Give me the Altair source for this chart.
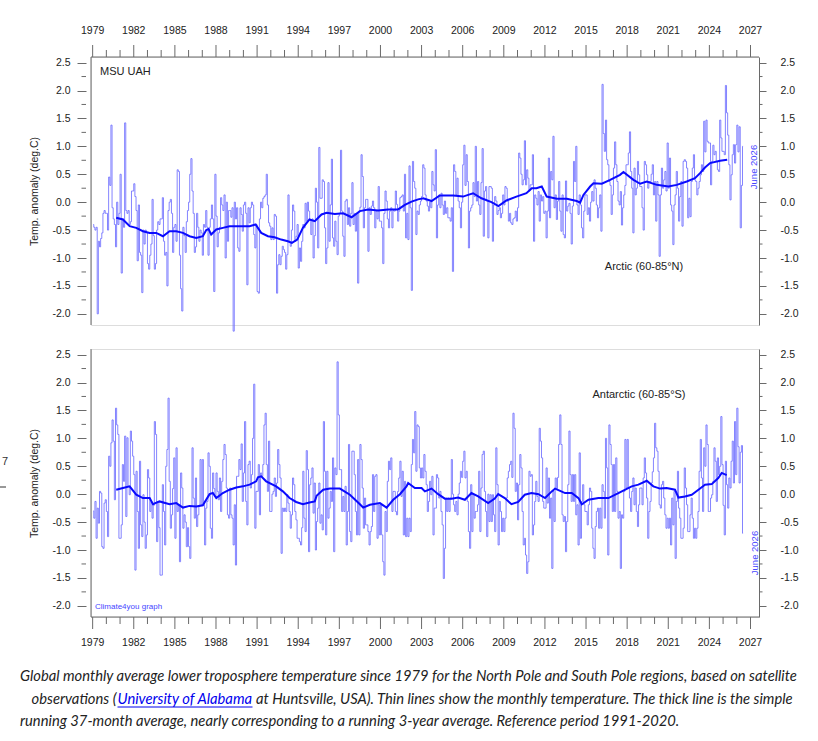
import altair as alt
import pandas as pd

# ---------------- data ----------------
arctic_rows = [
    [-0.4, -0.45, -0.5, -0.45, -2.0, -0.7, -0.8, -0.65, -0.55, -0.2, -0.15, -0.2],      # 1979
    [-0.2, -0.5, 0.45, 0.3, 1.38, -0.1, -0.3, -0.4, -0.8, 0.0, -0.4, -0.2],             # 1980
    [0.5, -1.27, -0.3, -0.45, 1.42, -0.15, -0.2, -0.15, -0.4, -0.35, 0.2, 0.2],         # 1981
    [0.33, 0.1, -0.15, -1.05, -0.05, -0.9, -0.95, -1.62, -0.5, -0.75, -0.5, -0.55],     # 1982
    [-1.1, -1.2, -0.95, -0.75, 0.05, -0.6, -1.2, -1.1, -0.5, -0.35, -0.4, -0.3],        # 1983
    [-0.3, 0.08, -0.7, -0.95, -0.9, -1.5, -0.15, 0.0, 0.05, -0.2, -0.9, -0.45],         # 1984
    [-0.4, -0.7, 0.58, 0.55, -0.95, -1.55, -1.95, -0.45, -0.6, -0.9, -0.35, -0.15],     # 1985
    [0.0, 0.5, 0.78, 0.2, -0.2, -0.9, -0.8, -0.2, -0.45, -0.7, -0.5, -0.55],            # 1986
    [-0.95, -0.4, -0.45, -0.15, -0.45, -0.95, -0.45, -0.3, -0.05, -0.3, -1.6, 0.5],     # 1987
    [-0.25, -0.8, -0.55, -0.45, 0.08, -0.05, -0.15, 0.13, -1.0, 0.0, -0.7, -0.15],      # 1988
    [-0.15, -0.27, -0.1, -2.31, 0.0, -0.3, -0.1, -0.82, -0.88, -0.1, -0.22, -0.52],     # 1989
    [-0.05, 0.0, -0.2, -1.48, -0.1, -0.37, -0.1, 0.0, -0.05, -0.58, -0.82, -0.4],       # 1990
    [-1.6, -1.63, -0.3, 0.0, -0.1, 0.07, 0.1, 0.13, 0.5, -0.05, -0.37, -0.43],          # 1991
    [-0.67, -0.46, -0.67, -0.22, -0.25, -1.63, -1.12, -0.94, -1.12, -0.97, -0.79, -0.85],  # 1992
    [-0.9, -1.2, -0.94, 0.13, -0.7, -0.79, -0.5, -0.05, -0.16, -0.7, -0.61, -0.4],      # 1993
    [-1.18, -0.82, -1.06, -0.7, -0.4, -0.46, -0.02, -0.34, 0.0, -0.16, -0.31, -0.58],   # 1994
    [-0.3, -1.0, -0.6, 0.25, 0.0, -0.82, 0.98, 0.07, 0.07, 0.4, 0.37, -0.46],           # 1995
    [-1.1, -0.82, 0.35, -0.7, -0.05, 0.77, -0.64, -0.79, -0.34, -0.7, -0.94, -0.25],    # 1996
    [-0.2, 0.93, -0.16, -0.61, -0.97, 0.02, 0.05, -0.4, -0.1, -0.43, -0.2, 0.35],       # 1997
    [-0.4, -0.2, -0.52, -0.22, -1.45, -0.16, -0.09, 0.85, 0.46, -0.46, -0.1, 0.05],     # 1998
    [0.05, -0.88, -0.1, -0.22, -0.07, 0.02, -0.1, -0.46, -0.16, -0.3, 0.28, -0.34],     # 1999
    [-0.34, -0.46, -1.1, -0.2, 0.2, 0.02, -0.3, -0.46, -0.16, -0.1, -0.46, -0.15],      # 2000
    [-0.16, 0.2, -0.04, -0.34, -0.16, 0.08, 0.1, 0.13, -0.16, 0.5, -0.64, -0.2],        # 2001
    [-0.67, 0.65, -0.1, -1.58, 0.73, 0.37, 0.25, -0.58, -0.16, -0.22, -0.05, 0.02],     # 2002
    [0.1, 0.67, 0.61, 0.13, 0.02, -0.07, -0.16, 0.0, -0.1, 0.55, 0.31, 0.2],            # 2003
    [0.94, -0.64, -0.05, 0.13, -0.1, 0.16, -0.05, -0.22, 0.02, -0.2, -0.1, -0.28],      # 2004
    [-0.28, -0.34, -0.1, -1.24, 0.67, 0.55, 0.13, 0.43, 0.02, -0.1, -0.46, 0.0],        # 2005
    [0.67, 1.02, 0.3, 0.85, 0.37, -0.82, -0.16, -0.1, -0.05, 0.35, 0.1, 1.0],           # 2006
    [0.02, 0.37, -0.05, -0.22, 0.35, 0.96, -0.61, 0.2, 0.28, 0.02, -0.64, 0.28],        # 2007
    [0.28, 0.25, -0.7, -0.05, 0.1, 0.02, -0.22, -0.15, -0.1, -0.28, -0.2, 0.13],        # 2008
    [-0.05, 0.28, 0.25, 0.02, -0.34, -0.2, -0.37, -0.4, -0.3, -0.28, -0.16, -0.34],     # 2009
    [-0.1, 0.88, 0.79, 0.5, 0.31, 0.4, 1.1, 0.31, 0.58, 0.43, 0.2, 0.31],               # 2010
    [0.31, 0.85, -0.7, 0.13, 0.07, -0.05, 0.19, -0.34, 0.13, 0.02, 0.1, -0.2],          # 2011
    [-0.16, -0.64, -0.16, 0.79, -0.28, 0.55, 0.4, 1.18, -0.1, 0.13, -0.31, 0.02],       # 2012
    [0.37, -0.16, -0.52, 0.13, -0.58, -0.64, 0.38, -0.16, -0.07, -0.02, -0.2, -0.75],   # 2013
    [-0.07, 0.73, 0.37, 1.0, -0.05, -0.22, 0.13, -0.05, -0.46, -0.64, -0.16, 0.13],     # 2014
    [0.13, -0.22, -0.1, -0.34, 0.0, 0.19, 0.02, 0.4, 0.25, -0.05, -0.28, -0.1],         # 2015
    [0.13, -0.52, 2.11, 1.23, 0.91, 1.47, 0.76, 0.67, 0.37, 0.3, -0.22, 0.13],          # 2016
    [0.61, 1.08, 0.67, 0.37, 0.02, -0.05, 0.19, -0.41, -0.1, 0.13, 0.3, 0.67],          # 2017
    [0.67, 0.88, 1.26, 0.55, 0.25, -0.55, 0.61, 0.13, 0.25, 0.73, 0.49, 0.28],          # 2018
    [0.28, -0.1, -0.5, 0.73, 0.67, 0.49, 0.25, 0.37, 0.37, 0.5, 0.67, 0.13],            # 2019
    [0.37, -0.34, 0.37, 0.13, -0.97, 0.13, 0.61, 0.25, 0.4, 0.55, 0.2, 1.06],           # 2020
    [0.25, 0.79, -0.05, -0.16, -0.76, -0.05, 0.13, 0.55, 0.25, -0.34, 0.1, 0.37],       # 2021
    [-0.43, 0.73, 0.76, 0.73, 0.61, -0.28, 0.07, -0.26, 0.37, 0.61, 0.85, 0.4],         # 2022
    [0.37, 0.13, 0.25, 0.37, 0.49, 0.67, 0.55, 1.45, 0.9, 1.47, 1.09, 1.06],            # 2023
    [1.06, 0.31, 0.73, 1.02, 0.85, 0.91, 0.73, 0.58, 0.55, 1.47, 1.15, 0.91],           # 2024
    [0.91, 0.85, 2.09, 1.6, 1.2, 0.67, 0.04, 0.49, 0.85, 1.03, 0.7, 1.03],              # 2025
    [1.38, 0.9, 1.35, -0.46, 0.3, 1.0],                                                 # 2026 (Jan-Jun)
]

antarctic_rows = [
    [-0.3, -0.43, -0.13, -0.79, -0.25, -0.52, 0.05, 0.02, -0.94, -0.97, -0.16, -0.1],   # 1979
    [-0.31, -0.76, 0.68, 0.5, 0.92, 1.33, 0.95, -0.1, 1.54, 1.24, 1.07, -0.79],         # 1980
    [-0.79, -0.55, 0.53, 0.23, 1.04, -0.4, 1.01, 0.14, -0.01, 1.13, 0.95, 0.68],        # 1981
    [0.35, -1.36, 0.41, -0.31, -0.97, 0.59, -0.55, -0.76, -0.01, -0.5, -0.97, -0.73],   # 1982
    [0.44, 0.29, -0.31, -0.13, -0.43, -0.2, 1.3, 1.07, -0.85, -0.13, -0.6, -1.45],      # 1983
    [-1.45, 0.17, -0.31, -0.91, 0.5, 0.8, 1.72, 0.23, -0.61, -0.37, 0.1, 0.65],         # 1984
    [-0.79, 0.83, -0.31, -0.19, -1.21, 0.38, 0.11, -0.61, -0.37, -0.5, -0.94, -0.6],    # 1985
    [-0.94, -1.15, -0.22, 0.83, -0.07, -0.43, 0.29, -0.58, -0.37, -0.2, 0.62, -0.19],   # 1986
    [0.62, -0.19, -0.91, -0.25, -0.13, 0.74, 0.5, -0.61, -0.79, 0.38, 0.1, -0.05],      # 1987
    [0.38, 0.05, -0.1, 0.29, -0.31, 0.23, 0.62, 0.89, 0.71, 0.11, -0.37, -0.43],        # 1988
    [0.11, -0.37, -0.43, -0.91, -0.19, -1.27, 0.32, 0.32, 0.62, 0.44, 0.9, -0.13],      # 1989
    [0.38, 1.3, -0.13, -0.55, 0.53, 0.59, 0.11, 0.35, 1.0, 1.97, -0.61, 0.05],          # 1990
    [0.05, 0.53, -0.37, 0.38, 0.32, 0.53, 1.24, 1.45, 0.53, 0.05, 0.95, -0.31],         # 1991
    [-0.31, 0.0, 0.05, 0.29, -0.04, 0.2, 0.8, 0.53, 0.29, -1.06, -0.25, -0.31],         # 1992
    [-0.25, -0.31, -0.01, -0.16, -0.31, -0.61, -0.37, 0.29, 0.17, -0.31, -0.46, -0.79], # 1993
    [-0.79, -0.85, -0.91, -0.6, 0.41, -0.43, -0.67, 0.78, 0.44, -1.03, 0.17, 0.29],     # 1994
    [0.47, -0.34, 0.2, -1.0, -0.49, -0.25, 0.2, -0.52, -0.37, -0.64, 1.3, 0.41],        # 1995
    [-0.73, 0.41, -0.43, -0.25, 0.05, -0.13, 0.65, -1.03, 0.47, 0.35, 2.37, 1.42],      # 1996
    [0.44, 0.44, -0.31, -0.04, -0.31, 0.14, -0.91, -0.31, 0.89, -0.67, -0.85, 0.77],    # 1997
    [0.77, 0.35, -0.31, -0.73, 0.62, -0.73, 0.89, 0.62, 0.11, -0.61, -0.07, -0.55],     # 1998
    [-0.55, -0.67, -0.91, -0.67, -0.58, 0.35, -0.31, 0.32, 0.35, -0.79, -0.19, -0.73],  # 1999
    [-0.19, -0.73, -1.21, -1.45, -0.31, -0.67, 0.23, 0.59, 0.44, 0.65, -0.31, 0.05],    # 2000
    [0.05, -0.31, -0.37, 0.05, 0.29, 0.59, -0.04, 0.41, -0.73, 0.23, -0.76, -0.43],     # 2001
    [-0.76, -0.43, -0.67, 0.53, 0.98, 0.74, 1.48, 0.41, 1.24, 1.21, 0.47, 0.29],        # 2002
    [0.47, 0.29, 0.71, 0.41, 0.17, -0.31, -0.13, 0.23, -0.01, 0.32, -0.73, -0.25],      # 2003
    [-0.25, 0.35, 0.29, -0.07, 0.05, -0.31, -0.55, -1.51, -0.97, -0.07, -0.31, -0.07],  # 2004
    [-0.31, -0.07, 0.62, 0.0, -0.19, -0.31, -0.13, -0.37, 0.0, 0.2, 0.41, 0.3],         # 2005
    [0.59, 0.77, 0.29, 0.41, -0.13, -0.67, -0.97, 0.17, -0.67, 0.0, -0.43, -0.31],      # 2006
    [-0.31, -0.19, 0.41, -0.67, 0.11, 0.71, 0.77, 0.05, -0.31, -0.76, 0.0, -0.49],      # 2007
    [-0.01, -0.49, -0.01, -0.37, -0.67, 0.83, 0.17, -0.91, -0.13, -0.31, -0.67, -0.43], # 2008
    [-0.67, -0.43, -0.07, 0.29, 0.41, 0.53, 0.59, 0.3, 1.45, 1.18, 0.05, 0.2],          # 2009
    [-0.46, 0.17, 0.71, 0.47, -0.31, -0.91, -0.79, -1.09, -1.42, -1.21, 0.41, 0.32],    # 2010
    [0.35, -0.73, -0.55, -0.13, 0.23, -0.04, -0.13, 1.18, 0.95, 0.65, -0.13, -0.25],    # 2011
    [-0.25, 0.47, -0.16, 0.29, -0.43, -0.07, -1.33, 0.05, -0.49, 0.29, 0.1, 0.3],       # 2012
    [0.89, 1.42, 0.89, -0.37, -0.49, -0.4, -1.03, -0.49, 0.17, 1.13, 0.35, -0.13],      # 2013
    [0.35, -0.13, 0.35, -0.37, -0.19, -0.91, 0.74, -0.79, -0.13, 0.17, -0.19, -0.31],   # 2014
    [-0.31, -0.55, -0.19, 0.11, 0.05, -0.61, -0.97, -1.15, -0.58, -0.31, -0.25, -0.61], # 2015
    [-0.25, -0.61, 0.17, 0.05, -0.43, 1.0, 0.47, -1.09, 1.24, 0.89, 0.53, -0.31],       # 2016
    [0.53, -0.31, 0.65, 0.05, -0.43, -0.31, -1.33, -0.37, -0.43, 0.05, 0.98, 0.11],     # 2017
    [0.98, 0.11, -0.07, -0.31, 0.05, 0.29, -0.19, 0.11, -0.31, -0.58, -0.19, 0.11],     # 2018
    [0.11, -0.19, 0.29, 0.65, 0.38, -0.07, -0.79, -0.31, -0.13, 0.2, 0.4, 0.65],        # 2019
    [1.27, 0.83, 0.77, 0.41, -0.19, -0.25, 0.17, 0.23, -0.07, -0.37, -0.61, -0.43],     # 2020
    [-0.61, -0.43, -0.91, -0.07, -0.55, 0.05, -1.15, -0.13, 0.41, -0.25, -0.43, -0.79], # 2021
    [-0.79, -0.61, 0.47, 0.11, -0.19, -0.67, -0.67, -0.37, -0.07, -0.43, -0.79, -0.61], # 2022
    [-0.79, -0.61, -0.31, 0.41, 0.98, 0.29, -0.31, 0.83, 0.5, 1.24, 0.89, -0.31],       # 2023
    [-0.31, -0.07, -0.01, 0.23, 0.83, 0.59, -0.13, 0.65, 0.35, 0.5, 1.39, 0.53],        # 2024
    [-0.2, -0.73, 0.59, 0.17, -0.25, 0.29, 0.11, 0.59, 0.95, 0.2, 1.3, 0.35],           # 2025
    [1.54, 0.85, 0.2, 0.75, 0.87, -0.7],                                                # 2026 (Jan-Jun)
]

arctic_mean_t = [1980.72, 1981.21, 1981.70, 1982.18, 1982.67, 1983.16, 1983.64, 1984.13, 1984.61,
                 1985.10, 1985.59, 1986.07, 1986.56, 1987.04, 1987.29, 1987.46, 1987.65, 1988.02,
                 1988.50, 1988.99, 1989.48, 1989.96, 1990.45, 1990.89, 1991.30, 1991.79, 1992.27,
                 1992.76, 1993.24, 1993.54, 1993.93, 1994.34, 1994.82, 1995.21, 1995.70, 1996.07,
                 1996.67, 1997.28, 1997.89, 1998.50, 1999.10, 1999.83, 2000.56, 2001.29, 2001.78,
                 2002.27, 2002.75, 2003.12, 2003.73, 2004.33, 2005.31, 2006.03, 2006.40, 2006.76,
                 2007.37, 2008.10, 2008.61, 2009.19, 2009.92, 2010.65, 2011.04, 2011.38, 2011.77,
                 2012.13, 2012.87, 2013.60, 2014.32, 2014.57, 2014.81, 2015.30, 2015.54, 2016.15,
                 2016.76, 2017.48, 2017.73, 2018.46, 2018.95, 2019.43, 2020.16, 2021.01, 2021.62,
                 2022.35, 2022.95, 2023.32, 2023.68, 2024.05, 2024.78, 2025.30]
arctic_mean_v = [-0.28, -0.31, -0.43, -0.46, -0.52, -0.55, -0.55, -0.61, -0.52,
                 -0.52, -0.55, -0.61, -0.64, -0.61, -0.50, -0.48, -0.58, -0.49,
                 -0.46, -0.43, -0.43, -0.43, -0.43, -0.40, -0.55, -0.61, -0.63,
                 -0.67, -0.70, -0.73, -0.67, -0.46, -0.31, -0.34, -0.22, -0.19,
                 -0.21, -0.20, -0.27, -0.16, -0.13, -0.15, -0.13, -0.13, -0.05,
                 0.01, 0.05, 0.07, 0.02, 0.12, 0.12, 0.10, 0.13, 0.16,
                 0.07, 0.00, -0.07, 0.03, 0.10, 0.16, 0.25, 0.25, 0.28,
                 0.10, 0.06, 0.06, 0.02, -0.01, 0.13, 0.28, 0.34, 0.33,
                 0.40, 0.49, 0.54, 0.40, 0.33, 0.37, 0.31, 0.28, 0.31,
                 0.37, 0.43, 0.52, 0.62, 0.70, 0.74, 0.76]

antarctic_mean_t = [1980.72, 1981.21, 1981.70, 1982.18, 1982.67, 1983.16, 1983.40, 1983.88, 1984.61,
                    1985.10, 1985.59, 1986.07, 1986.56, 1987.04, 1987.53, 1987.77, 1988.02, 1988.50,
                    1988.99, 1989.48, 1989.96, 1990.45, 1990.93, 1991.06, 1991.30, 1991.66, 1992.39,
                    1992.88, 1993.37, 1993.85, 1994.34, 1994.82, 1995.21, 1995.34, 1995.82, 1996.31,
                    1997.04, 1997.77, 1998.50, 1998.74, 1999.23, 1999.96, 2000.45, 2000.93, 2001.42,
                    2001.90, 2002.02, 2002.51, 2003.00, 2003.24, 2003.73, 2004.21, 2004.70, 2005.19,
                    2005.67, 2006.16, 2006.64, 2007.13, 2007.86, 2008.34, 2008.59, 2009.07, 2009.56,
                    2010.05, 2010.53, 2011.02, 2011.53, 2012.01, 2012.50, 2012.74, 2013.47, 2013.96,
                    2014.45, 2014.69, 2015.18, 2015.90, 2016.63, 2017.36, 2017.61, 2018.33, 2018.82,
                    2019.43, 2019.91, 2020.40, 2020.88, 2021.49, 2021.74, 2022.22, 2022.71, 2023.20,
                    2023.68, 2024.17, 2024.65, 2024.90, 2025.26]
antarctic_mean_v = [0.08, 0.11, 0.14, -0.01, -0.07, -0.07, -0.18, -0.13, -0.18,
                    -0.16, -0.24, -0.21, -0.22, -0.20, 0.00, 0.02, -0.07, 0.02,
                    0.08, 0.12, 0.14, 0.17, 0.23, 0.30, 0.32, 0.23, 0.14,
                    0.05, -0.07, -0.14, -0.18, -0.15, -0.13, -0.03, 0.08, 0.10,
                    0.10, -0.01, -0.18, -0.24, -0.19, -0.16, -0.24, -0.10, 0.00,
                    0.14, 0.20, 0.11, 0.11, 0.05, 0.10, 0.00, -0.08, -0.08,
                    -0.06, -0.10, 0.02, -0.04, -0.16, -0.08, 0.00, -0.07, -0.18,
                    -0.14, -0.01, 0.02, 0.00, -0.07, 0.05, 0.10, 0.02, 0.02,
                    -0.07, -0.18, -0.10, -0.07, -0.07, 0.02, 0.05, 0.14, 0.17,
                    0.24, 0.14, 0.10, 0.11, 0.08, -0.06, -0.04, -0.01, 0.08,
                    0.17, 0.18, 0.29, 0.38, 0.34]

year_major = list(range(1979, 2028, 3))
year_minor = [y for y in range(1979, 2028) if (y - 1979) % 3 != 0]
y_major = [-2.0, -1.5, -1.0, -0.5, 0.0, 0.5, 1.0, 1.5, 2.0, 2.5]
y_minor = [-1.75, -1.25, -0.75, -0.25, 0.25, 0.75, 1.25, 1.75, 2.25]

caption_1 = "Global monthly average lower troposphere temperature since 1979 for the North Pole and South Pole regions, based on satellite"
caption_2a = "observations ("
caption_2b = "University of Alabama"
caption_2c = "at Huntsville, USA). Thin lines show the monthly temperature. The thick line is the simple"
caption_3 = "running 37-month average, nearly corresponding to a running 3-year average. Reference period 1991-2020."

# ---------------- layout / style ----------------
W, H = 668, 268
FONT = "Liberation Sans"
CAP_FONT = "Lato"
CAP_SIZE = 14.75
AX = "#6a6a6a"
TXT = "#222222"
THIN = "#6e6eff"
THICK = "#0a0aff"
LABEL_BLUE = "#4646ff"

arctic = [v for row in arctic_rows for v in row]
antarctic = [v for row in antarctic_rows for v in row]
months = [1979 + (i + 0.5) / 12 for i in range(len(arctic))]

xs = alt.Scale(domain=[1978.88, 2027.62], nice=False, zero=False)
ys = alt.Scale(domain=[-2.2, 2.6], nice=False, zero=False)

ylab = "(datum.value < 0 ? '-' : '') + format(abs(datum.value), '.1f')"


def txt(s, x, y, size=10.5, color=TXT, align="left", angle=0, style="normal", font=FONT, baseline="middle"):
    kw = dict(align=align, baseline=baseline, fontSize=size, font=font, color=color, fontStyle=style)
    if angle:
        kw["angle"] = angle
    return alt.Chart(pd.DataFrame({"s": [s]})).mark_text(**kw).encode(
        text="s:N", x=alt.value(x), y=alt.value(y))


def hrule(x1, x2, y, color=AX):
    return alt.Chart(pd.DataFrame({"a": [0]})).mark_rule(color=color, strokeWidth=1).encode(
        x=alt.value(x1), x2=alt.value(x2), y=alt.value(y))


def panel(vals, mt, mv, is_top, extra):
    df = pd.DataFrame({"t": months, "v": vals})
    dm = pd.DataFrame({"t": mt, "v": mv})
    laxis = alt.Axis(orient="left", values=y_major, labelExpr=ylab, domain=False, offset=5,
                     tickSize=9, tickColor=AX, labelPadding=7, labelColor=TXT, labelFont=FONT,
                     labelFontSize=10.5, grid=False, title="Temp. anomaly (deg.C)", titleFont=FONT,
                     titleFontSize=10.5, titleFontWeight="normal", titleColor=TXT, titlePadding=12)
    raxis = alt.Axis(orient="right", values=y_major, labelExpr=ylab, domainColor=AX, tickColor=AX,
                     tickSize=7, labelPadding=14, labelColor=TXT, labelFont=FONT, labelFontSize=10.5,
                     grid=False, title=None)
    thin = alt.Chart(df).mark_line(interpolate="step", stroke=THIN, strokeWidth=1, opacity=0.85).encode(
        x=alt.X("t:Q", scale=xs, axis=None), y=alt.Y("v:Q", scale=ys, axis=laxis))
    thick = alt.Chart(dm).mark_line(stroke=THICK, strokeWidth=2).encode(
        x=alt.X("t:Q", scale=xs, axis=None), y=alt.Y("v:Q", scale=ys, axis=raxis))

    # minor ticks of the value axes
    ymin = pd.DataFrame({"v": y_minor})
    lminor = alt.Chart(ymin).mark_rule(color=AX, strokeWidth=1).encode(
        y=alt.Y("v:Q", scale=ys, axis=None), x=alt.value(-5), x2=alt.value(-9.5))
    rminor = alt.Chart(ymin).mark_rule(color=AX, strokeWidth=1).encode(
        y=alt.Y("v:Q", scale=ys, axis=None), x=alt.value(W), x2=alt.value(W + 3.5))

    # year axis (top for the upper panel, bottom for the lower one)
    y0 = 0 if is_top else H
    sgn = -1 if is_top else 1
    xmaj = pd.DataFrame({"yr": year_major})
    xmin = pd.DataFrame({"yr": year_minor})
    xline = hrule(0, W, y0)
    xmajor = alt.Chart(xmaj).mark_rule(color=AX, strokeWidth=1).encode(
        x=alt.X("yr:Q", scale=xs, axis=None), y=alt.value(y0), y2=alt.value(y0 + sgn * 12))
    xminor = alt.Chart(xmin).mark_rule(color=AX, strokeWidth=1).encode(
        x=alt.X("yr:Q", scale=xs, axis=None), y=alt.value(y0), y2=alt.value(y0 + sgn * 7))
    xlabels = alt.Chart(xmaj).mark_text(align="center", baseline="middle", font=FONT, fontSize=10.5,
                                        color=TXT).encode(
        x=alt.X("yr:Q", scale=xs, axis=None), y=alt.value(y0 + sgn * 26),
        text=alt.Text("yr:Q", format="d"))

    frame = alt.Chart(pd.DataFrame({"a": [0]})).mark_rule(color=AX, strokeWidth=1).encode(
        x=alt.value(0), y=alt.value(0), y2=alt.value(H))
    layers = [thin, thick, lminor, rminor, xline, xmajor, xminor, xlabels, frame] + extra
    return alt.layer(*layers).resolve_scale(y="independent").resolve_axis(y="independent").properties(
        width=W, height=H)


top_extra = [
    txt("MSU UAH", 9, 15, size=11),
    txt("Arctic (60-85\u00b0N)", 553, 210, size=11, align="center"),
    txt("June 2026", 663, 110, size=9.5, color=LABEL_BLUE, align="center", angle=270),
]

bottom_extra = [
    txt("Antarctic (60-85\u00b0S)", 548, 46, size=11, align="center"),
    txt("June 2026", 663.5, 204, size=9.5, color=LABEL_BLUE, align="center", angle=270),
    txt("Climate4you graph", 4, 258, size=8, color=LABEL_BLUE),
    txt("7", -89, 113, size=11, color="#333333"),
    hrule(-91, -85, 138, color="#333333"),
    txt(caption_1, -71, 328, size=CAP_SIZE, style="italic", font=CAP_FONT),
    txt(caption_2a, 25.5, 351, size=CAP_SIZE, style="italic", font=CAP_FONT, align="right"),
    txt(caption_2b, 26.5, 351, size=CAP_SIZE, style="italic", font=CAP_FONT, color="#0000ee"),
    txt(caption_2c, 165, 351, size=CAP_SIZE, style="italic", font=CAP_FONT),
    hrule(26.5, 161.5, 358, color="#0000ee"),
    txt(caption_3, -71, 373, size=CAP_SIZE, style="italic", font=CAP_FONT),
]

top = panel(arctic, arctic_mean_t, arctic_mean_v, True, top_extra)
bottom = panel(antarctic, antarctic_mean_t, antarctic_mean_v, False, bottom_extra)

# With autosize "none" the view keeps the layout width (W) but a zero height,
# so the padding supplies the rest of the 818 x 741 page.
TOTAL_W, TOTAL_H = 818, 741
chart = alt.vconcat(top, bottom, spacing=24, bounds="flush").properties(
    autosize=alt.AutoSizeParams(type="none"),
    padding={"left": 91, "top": 57, "right": TOTAL_W - 91 - W, "bottom": TOTAL_H - 57},
).configure_view(stroke=None).configure(background="white")

chart.save("out.html", embed_options={"renderer": "svg", "actions": False})
